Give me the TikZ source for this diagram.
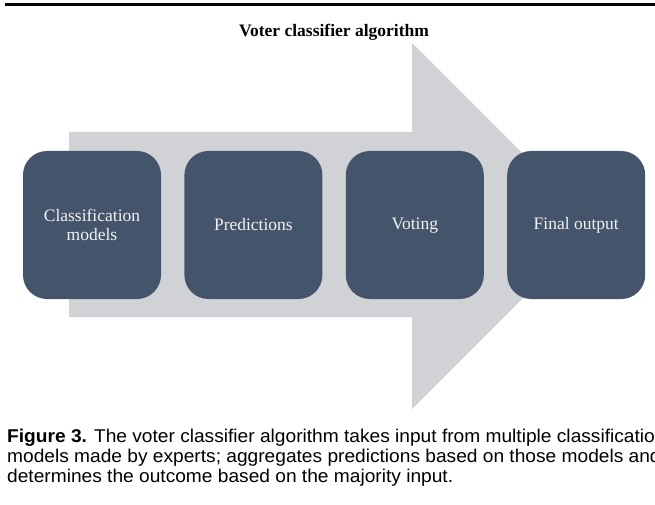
\documentclass[tikz,border=0pt]{standalone}
\usepackage{fontspec}
\setmainfont{Liberation Serif}
\newfontfamily\capfont[FakeStretch=1.035]{Liberation Sans}
\usetikzlibrary{positioning}
\definecolor{slate}{HTML}{44546A}
\definecolor{flowgray}{HTML}{D0D2D5}
\definecolor{boxtext}{HTML}{F2F2F2}
\begin{document}
\begin{tikzpicture}[x=1pt, y=-1pt,
          stage/.style = {fill=slate, rounded corners=24pt, minimum width=138pt,
                          minimum height=148pt, inner sep=0pt, align=center,
                          text=boxtext, font=\fontsize{17.5}{19}\selectfont},
          heading/.style = {font=\bfseries\fontsize{17.5}{20}\selectfont, inner sep=0pt},
          caption/.style = {font=\capfont\fontsize{18.5}{20}\selectfont, align=left,
                            inner sep=0pt, anchor=north west}]
        \useasboundingbox (0,0) rectangle (655,505);
        \clip (0,0) rectangle (655,505);
        \draw[line width=3pt] (5,5) -- (655,5);
        \node[heading, anchor=base] (title) at (334,37) {Voter classifier algorithm};
        \fill[flowgray] (69,132) -- (412,132) -- (412,43) -- (595,226)
                -- (412,409) -- (412,317) -- (69,317) -- cycle;
        \node[stage] (models) at (92,225) {Classification\\models};
        \node[stage] (preds) [right=23pt of models] {Predictions};
        \node[stage] (vote) [right=23pt of preds] {\vphantom{Vd}Voting};
        \node[stage] (final) [right=23pt of vote] {Final output};
        \node[caption] (cap) at (7,428.5)
                {\textbf{Figure 3.} The voter classifier algorithm takes input from multiple classification\\
                 models made by experts; aggregates predictions based on those models and\\
                 determines the outcome based on the majority input.};
      \end{tikzpicture}
\end{document}
